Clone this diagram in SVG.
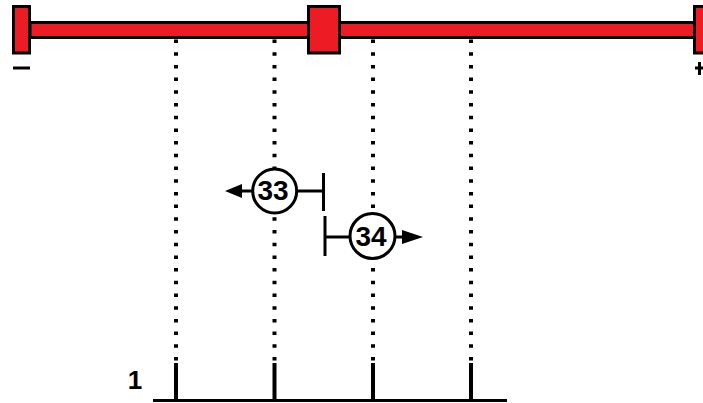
<svg xmlns="http://www.w3.org/2000/svg" width="703" height="403" viewBox="0 0 703 403">
<style>
.red{fill:#ed1c24;stroke:#000;stroke-width:3}
.dot{stroke:#000;stroke-width:4;stroke-dasharray:3.5 9.2;fill:none}
.ln{stroke:#000;stroke-width:3;fill:none}
.tick{stroke:#000;stroke-width:4;fill:none}
.circ{fill:#fff;stroke:#000;stroke-width:3}
text{font-family:"Liberation Sans",Arial,sans-serif;font-weight:bold;fill:#000;text-anchor:middle}
</style>
<rect width="703" height="403" fill="#fff"/>
<g id="rail">
<rect class="red" x="30" y="22.5" width="665" height="15"/>
<rect class="red" x="13.5" y="6.5" width="16" height="46.5"/>
<rect class="red" x="694.5" y="6.5" width="16" height="46.5"/>
<rect class="red" x="308.5" y="6.5" width="31" height="46.5"/>
<rect x="13" y="66.5" width="17" height="3" fill="#000"/>
<rect x="695" y="66.5" width="10" height="3" fill="#000"/>
<rect x="698" y="62" width="3" height="13" fill="#000"/>
</g>
<g id="guides">
<line class="dot" x1="176" y1="39.5" x2="176" y2="361"/>
<line class="dot" x1="274.5" y1="39.5" x2="274.5" y2="361"/>
<line class="dot" x1="373" y1="39.5" x2="373" y2="361"/>
<line class="dot" x1="471" y1="39.5" x2="471" y2="361"/>
</g>
<g id="scale">
<line class="ln" x1="153" y1="400.5" x2="507" y2="400.5"/>
<line class="tick" x1="176" y1="363" x2="176" y2="400"/>
<line class="tick" x1="274.5" y1="363" x2="274.5" y2="400"/>
<line class="tick" x1="373" y1="363" x2="373" y2="400"/>
<line class="tick" x1="471" y1="363" x2="471" y2="400"/>
<text x="135" y="389" font-size="26">1</text>
</g>
<g id="connectors">
<line class="ln" x1="297" y1="191" x2="323.5" y2="191"/>
<line class="ln" x1="323.5" y1="173" x2="323.5" y2="211"/>
<line class="ln" x1="240" y1="191" x2="253" y2="191"/>
<polygon points="225,191 242,184 242,198" fill="#000"/>
<line class="ln" x1="325" y1="237" x2="350" y2="237"/>
<line class="ln" x1="325" y1="216" x2="325" y2="256"/>
<line class="ln" x1="395" y1="237" x2="404" y2="237"/>
<polygon points="423,237 402,230 402,244" fill="#000"/>
</g>
<g id="node33">
<circle class="circ" cx="274.7" cy="191" r="22"/>
<text x="273" y="200" font-size="28">33</text>
</g>
<g id="node34">
<circle class="circ" cx="372.5" cy="236" r="22.5"/>
<text x="371" y="246" font-size="28">34</text>
</g>
</svg>
